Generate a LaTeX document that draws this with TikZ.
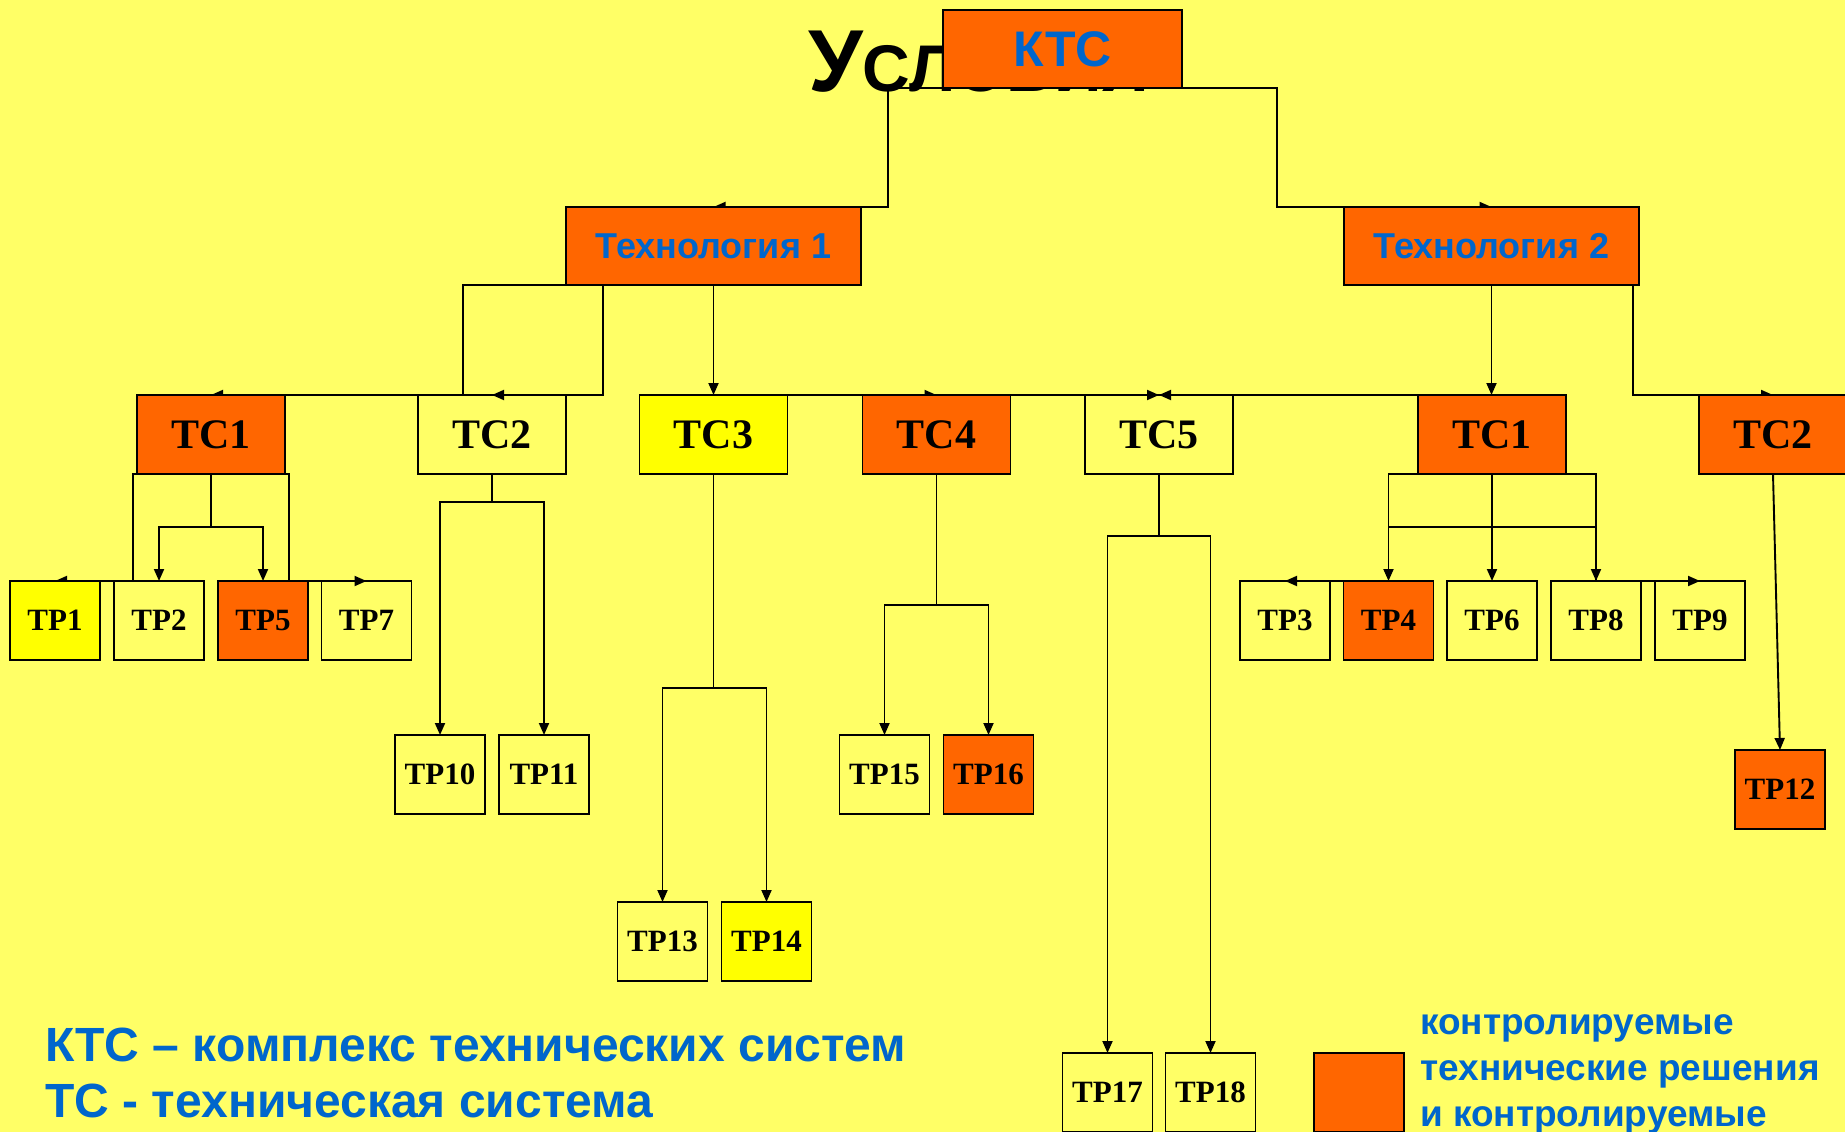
\documentclass[tikz,border=0pt]{standalone}
\usepackage{fontspec}
\setmainfont{Liberation Serif}
\setsansfont{Liberation Sans}
\usetikzlibrary{arrows.meta}
\definecolor{bgy}{HTML}{FFFF66}
\definecolor{org}{HTML}{FF6600}
\definecolor{yel}{HTML}{FFFF00}
\definecolor{blu}{HTML}{0066CC}
\begin{document}
\begin{tikzpicture}[x=1pt,y=-1pt,
  bx/.style={draw=black, line width=1.9pt, outer sep=0pt, inner sep=0pt,
    minimum width=148pt, minimum height=79pt,
    font=\fontsize{42}{42}\selectfont\bfseries},
  tp/.style={bx, minimum width=90pt, font=\fontsize{31}{31}\selectfont\bfseries},
  og/.style={fill=org},
  yl/.style={fill=yel},
  tech/.style={bx, minimum width=295pt, minimum height=78pt, fill=org, text=blu,
    font=\sffamily\bfseries\fontsize{36}{36}\selectfont},
  con/.style={line width=1.9pt},
  arr/.style={con, -{Triangle[length=12pt,width=10pt]}},
  legtxt/.style={anchor=base west, inner sep=0pt, text=blu,
    font=\sffamily\bfseries\fontsize{48}{48}\selectfont},
  legtxtb/.style={anchor=base west, inner sep=0pt, text=blu,
    font=\sffamily\bfseries\fontsize{37}{37}\selectfont}
]
\useasboundingbox (0,0) rectangle (1845,1132);
\fill[bgy] (0,0) rectangle (1845,1132);

% title (mostly hidden), small caps
\node[anchor=base west, inner sep=0pt, font=\sffamily\bfseries\fontsize{88}{88}\selectfont] (title) at (808,92) {У\fontsize{66}{66}\selectfont СЛОВИЯ};

% connectors
\coordinate (KTCs) at (1062.5,88);
\draw[arr] (KTCs) -| (888,207) -- (713.5,207);
\draw[arr] (KTCs) -| (1277,207) -- (1491.5,207);

\draw[arr] (713.5,285) -- (713.5,395);
\draw[arr] (713.5,285) -| (603,395) -- (492,395);
\draw[arr] (713.5,285) -| (463,395) -- (211,395);
\draw[arr] (713.5,285) |- (936.5,395);
\draw[arr] (713.5,285) |- (1159,395);
\draw[arr] (1491.5,285) -- (1491.5,395);
\draw[arr] (1491.5,285) |- (1159,395);
\draw[arr] (1491.5,285) -| (1633,395) -- (1773,395);

\draw[arr] (211,474) -- (211,527) -| (159,581);
\draw[arr] (211,474) -- (211,527) -| (263,581);
\draw[arr] (211,474) -| (133,581) -- (55,581);
\draw[arr] (211,474) -| (289,581) -- (366.5,581);

\draw[arr] (492,474) -- (492,502) -| (440,735);
\draw[arr] (492,474) -- (492,502) -| (544,735);

\draw[arr] (713.5,474) -- (713.5,688) -| (662.5,902);
\draw[arr] (713.5,474) -- (713.5,688) -| (766.5,902);

\draw[arr] (936.5,474) -- (936.5,605) -| (884.5,735);
\draw[arr] (936.5,474) -- (936.5,605) -| (988.5,735);

\draw[arr] (1159,474) -- (1159,536) -| (1107.5,1053);
\draw[arr] (1159,474) -- (1159,536) -| (1210.5,1053);

\draw[arr] (1492,474) -- (1492,581);
\draw[arr] (1492,474) -- (1492,527) -| (1388.5,581);
\draw[arr] (1492,474) -- (1492,527) -| (1596,581);
\draw[arr] (1492,474) -| (1388.5,581) -- (1285,581);
\draw[arr] (1492,474) -| (1596,581) -- (1700,581);

\draw[arr] (1773,474) -- (1780,750);

% nodes
\node[bx, og, minimum width=239pt, minimum height=78pt, text=blu,
  font=\sffamily\bfseries\fontsize{50}{50}\selectfont] (KTC) at (1062.5,49) {КТС};
\node[tech] (T1) at (713.5,246) {Технология 1};
\node[tech] (T2) at (1491.5,246) {Технология 2};

\node[bx, og] (TC1L) at (211,434.5) {ТС1};
\node[bx] (TC2L) at (492,434.5) {ТС2};
\node[bx, yl] (TC3) at (713.5,434.5) {ТС3};
\node[bx, og] (TC4) at (936.5,434.5) {ТС4};
\node[bx] (TC5) at (1159,434.5) {ТС5};
\node[bx, og] (TC1R) at (1492,434.5) {ТС1};
\node[bx, og] (TC2R) at (1773,434.5) {ТС2};

\node[tp, yl] (TP1) at (55,620.5) {ТР1};
\node[tp] (TP2) at (159,620.5) {ТР2};
\node[tp, og] (TP5) at (263,620.5) {ТР5};
\node[tp] (TP7) at (366.5,620.5) {ТР7};
\node[tp] (TP3) at (1285,620.5) {ТР3};
\node[tp, og] (TP4) at (1388.5,620.5) {ТР4};
\node[tp] (TP6) at (1492,620.5) {ТР6};
\node[tp] (TP8) at (1596,620.5) {ТР8};
\node[tp] (TP9) at (1700,620.5) {ТР9};

\node[tp] (TP10) at (440,774.5) {ТР10};
\node[tp] (TP11) at (544,774.5) {ТР11};
\node[tp] (TP15) at (884.5,774.5) {ТР15};
\node[tp, og] (TP16) at (988.5,774.5) {ТР16};
\node[tp, og] (TP12) at (1780,789.5) {ТР12};
\node[tp] (TP13) at (662.5,941.5) {ТР13};
\node[tp, yl] (TP14) at (766.5,941.5) {ТР14};
\node[tp] (TP17) at (1107.5,1092.5) {ТР17};
\node[tp] (TP18) at (1210.5,1092.5) {ТР18};

% legend
\node[tp, og] (legbox) at (1359,1092.5) {};
\node[legtxt] (leg1) at (45,1061) {КТС – комплекс технических систем};
\node[legtxt] (leg2) at (45,1117) {ТС - техническая система};
\node[legtxtb] (leg3) at (1420,1034) {контролируемые};
\node[legtxtb] (leg4) at (1420,1080) {технические решения};
\node[legtxtb] (leg5) at (1420,1126) {и контролируемые};
\end{tikzpicture}
\end{document}
